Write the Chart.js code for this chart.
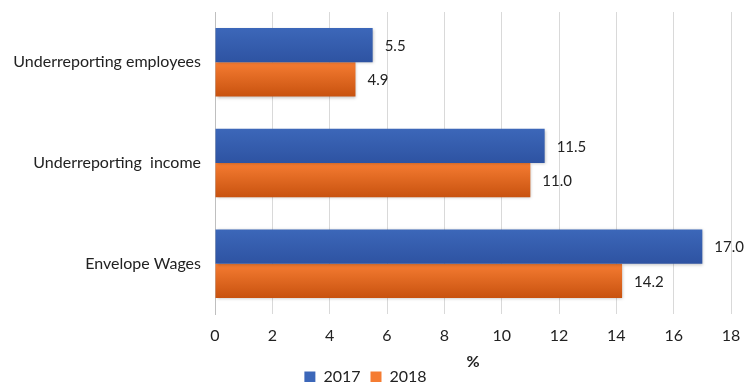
<!DOCTYPE html>
<html>
<head>
<meta charset="utf-8">
<script src="https://cdn.jsdelivr.net/npm/chart.js@4"></script>
<style>
  html, body { margin: 0; padding: 0; background: #fff; }
  #wrap { width: 744px; height: 382px; }
</style>
</head>
<body>
<div id="wrap"><canvas id="chart" width="744" height="382"></canvas></div>
<script>
// dados do gráfico
const categorias = ["Underreporting employees", "Underreporting  income", "Envelope Wages"];
const serie2017 = [5.5, 11.5, 17.0];
const serie2018 = [4.9, 11.0, 14.2];
const anos = ["2017", "2018"];
const eixoX = { min: 0, max: 18, passo: 2 };

const FONTE = "Lato, 'Open Sans', sans-serif";

// cores em degradê (topo -> base)
const cores = [
  ["#3c67b9", "#2e53a2"],
  ["#f57c32", "#c8520f"],
];

// aplica degradê em cada barra
const gradientePlugin = {
  id: "gradiente",
  beforeDatasetsDraw(chart) {
    const ctx = chart.ctx;
    chart.data.datasets.forEach((ds, i) => {
      const meta = chart.getDatasetMeta(i);
      meta.data.forEach((bar) => {
        const h = bar.height / 2;
        const g = ctx.createLinearGradient(0, bar.y - h, 0, bar.y + h);
        g.addColorStop(0, cores[i][0]);
        g.addColorStop(1, cores[i][1]);
        bar.options = Object.assign({}, bar.options, { backgroundColor: g });
      });
    });
    ctx.save();
    ctx.shadowColor = "rgba(0,0,0,0.25)";
    ctx.shadowBlur = 3;
    ctx.shadowOffsetX = 1;
    ctx.shadowOffsetY = 1;
  },
  afterDatasetsDraw(chart) {
    chart.ctx.restore();
  },
};

// rótulos de valor ao lado das barras
const rotulosPlugin = {
  id: "rotulos",
  afterDatasetsDraw(chart) {
    const ctx = chart.ctx;
    ctx.save();
    ctx.font = "15px " + FONTE;
    ctx.fillStyle = "#222";
    ctx.textAlign = "left";
    ctx.textBaseline = "middle";
    chart.data.datasets.forEach((ds, i) => {
      const meta = chart.getDatasetMeta(i);
      meta.data.forEach((bar, j) => {
        ctx.fillText(ds.data[j].toFixed(1), bar.x + 12, bar.y + 1);
      });
    });
    ctx.restore();
  },
};

const ctx = document.querySelector("#chart").getContext("2d");
const chart = new Chart(ctx, {
  type: "bar",
  data: {
    labels: categorias,
    datasets: [
      { label: anos[0], data: serie2017, backgroundColor: cores[0][0], borderWidth: 0 },
      { label: anos[1], data: serie2018, backgroundColor: cores[1][0], borderWidth: 0 },
    ],
  },
  options: {
    indexAxis: "y",
    responsive: false,
    animation: false,
    categoryPercentage: 0.68,
    barPercentage: 1.0,
    layout: { padding: { top: 12, right: 13, left: 0, bottom: -13 } },
    scales: {
      x: {
        min: eixoX.min,
        max: eixoX.max,
        ticks: { stepSize: eixoX.passo, color: "#222", font: { family: FONTE, size: 16 }, padding: 12 },
        grid: { color: "#d9d9d9", drawTicks: false },
        border: { display: false },
        title: { display: true, text: "%", color: "#222", font: { family: FONTE, size: 16, weight: "bold" }, padding: { top: 0, bottom: -12 } },
        afterFit: (s) => { s.height = 45; s.paddingLeft = 0; s.paddingRight = 0; },
      },
      y: {
        ticks: { color: "#222", font: { family: FONTE, size: 16 }, padding: 14 },
        grid: { display: false, drawTicks: false },
        border: { display: true, color: "#bfbfbf" },
        afterFit: (s) => { s.width = 215; s.paddingTop = 0; s.paddingBottom = 0; },
      },
    },
    plugins: {
      legend: {
        position: "bottom",
        labels: { boxWidth: 11, boxHeight: 11, color: "#222", font: { family: FONTE, size: 16 }, padding: 10 },
      },
      tooltip: { enabled: false },
    },
  },
  plugins: [gradientePlugin, rotulosPlugin],
});
</script>
</body>
</html>
